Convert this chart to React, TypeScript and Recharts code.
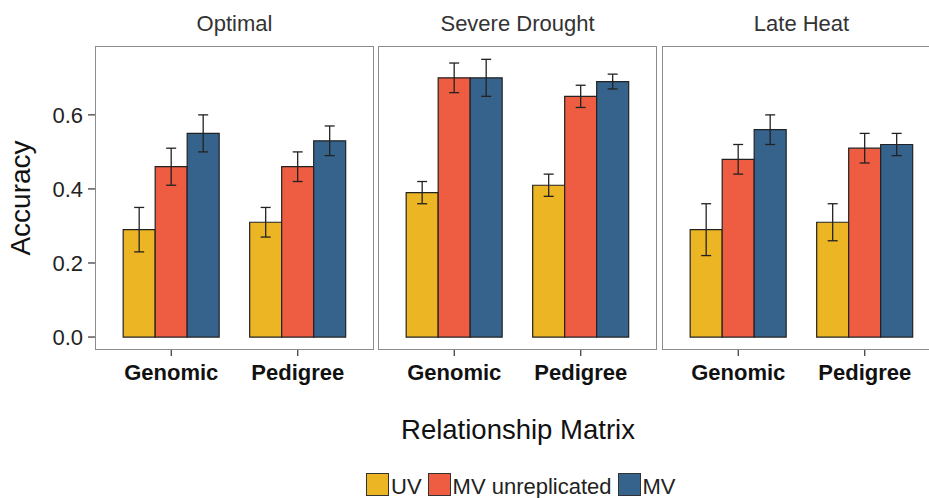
import React from "react";
import { BarChart, Bar, XAxis, YAxis, ErrorBar } from "recharts";

// Accuracy by relationship matrix, faceted by environment.

const environments = ["Optimal", "Severe Drought", "Late Heat"];
const matrices = ["Genomic", "Pedigree"];

// rows = environment, cols = matrix (Genomic, Pedigree)
const uvMean = [[0.29, 0.31], [0.39, 0.41], [0.29, 0.31]];
const uvLow = [[0.23, 0.27], [0.36, 0.38], [0.22, 0.26]];
const uvHigh = [[0.35, 0.35], [0.42, 0.44], [0.36, 0.36]];

const mvuMean = [[0.46, 0.46], [0.7, 0.65], [0.48, 0.51]];
const mvuLow = [[0.41, 0.42], [0.66, 0.62], [0.44, 0.47]];
const mvuHigh = [[0.51, 0.5], [0.74, 0.68], [0.52, 0.55]];

const mvMean = [[0.55, 0.53], [0.7, 0.69], [0.56, 0.52]];
const mvLow = [[0.5, 0.49], [0.65, 0.67], [0.52, 0.49]];
const mvHigh = [[0.6, 0.57], [0.75, 0.71], [0.6, 0.55]];

const yTicks = [0, 0.2, 0.4, 0.6];

const series = [
  { key: "uv", name: "UV", color: "#ECB523" },
  { key: "mvu", name: "MV unreplicated", color: "#EE5D42" },
  { key: "mv", name: "MV", color: "#36638B" },
];

const FONT = "'Liberation Sans', Arial, sans-serif";
const PLOT_TOP = 46;
const PLOT_H = 304;
const PANEL_W = 279;
const Y_AXIS_W = 95;
const panelLeft = [95, 378, 662];
const Y_DOMAIN: [number, number] = [-0.035, 0.786];

function buildRows(e: number) {
  return matrices.map((m, i) => ({
    matrix: m,
    uv: uvMean[e][i],
    uvErr: [uvMean[e][i] - uvLow[e][i], uvHigh[e][i] - uvMean[e][i]],
    mvu: mvuMean[e][i],
    mvuErr: [mvuMean[e][i] - mvuLow[e][i], mvuHigh[e][i] - mvuMean[e][i]],
    mv: mvMean[e][i],
    mvErr: [mvMean[e][i] - mvLow[e][i], mvHigh[e][i] - mvMean[e][i]],
  }));
}

function Panel({ index }: { index: number }) {
  const first = index === 0;
  const width = first ? Y_AXIS_W + PANEL_W : PANEL_W;
  const left = first ? 0 : panelLeft[index];
  return (
    <div style={{ position: "absolute", left, top: 0 }}>
      <BarChart
        width={width}
        height={400}
        data={buildRows(index)}
        margin={{ top: PLOT_TOP, right: 0, bottom: 10, left: 0 }}
        barCategoryGap="12%"
        barGap={0}
      >
        <XAxis
          dataKey="matrix"
          height={40}
          axisLine={false}
          tickLine={{ stroke: "#333", strokeWidth: 1.2 }}
          tickSize={6}
          tickMargin={8}
          padding={{ left: 13, right: 13 }}
          tick={{ fontSize: 22, fontWeight: "bold", fill: "#111", fontFamily: FONT }}
        />
        <YAxis
          hide={!first}
          width={Y_AXIS_W}
          domain={Y_DOMAIN}
          allowDataOverflow
          ticks={yTicks}
          tickFormatter={(v: number) => v.toFixed(1)}
          axisLine={false}
          tickLine={{ stroke: "#333", strokeWidth: 1.2 }}
          tickSize={7}
          tickMargin={5}
          tick={{ fontSize: 22, fill: "#222", fontFamily: FONT }}
        />
        {series.map((s) => (
          <Bar
            key={s.key}
            dataKey={s.key}
            fill={s.color}
            stroke="#222"
            strokeWidth={1.2}
            isAnimationActive={false}
          >
            <ErrorBar
              dataKey={s.key + "Err"}
              width={5}
              stroke="#222"
              strokeWidth={1.3}
              isAnimationActive={false}
            />
          </Bar>
        ))}
      </BarChart>
      <div
        style={{
          position: "absolute",
          left: first ? Y_AXIS_W : 0,
          top: PLOT_TOP,
          width: PANEL_W,
          height: PLOT_H,
          border: "1.5px solid #8c8c8c",
          boxSizing: "border-box",
          pointerEvents: "none",
        }}
      />
    </div>
  );
}

export default function App() {
  return (
    <div
      style={{
        position: "absolute",
        left: 0,
        top: 0,
        width: 929,
        height: 498,
        overflow: "hidden",
        background: "#fff",
        fontFamily: FONT,
      }}
    >
      {environments.map((env, i) => (
        <React.Fragment key={env}>
          <Panel index={i} />
          <div
            style={{
              position: "absolute",
              left: panelLeft[i],
              top: 13,
              width: PANEL_W,
              textAlign: "center",
              fontSize: 22,
              lineHeight: "22px",
              color: "#333",
            }}
          >
            {env}
          </div>
        </React.Fragment>
      ))}

      <div
        style={{
          position: "absolute",
          left: 21,
          top: 198,
          transform: "translate(-50%, -50%) rotate(-90deg)",
          fontSize: 28,
          lineHeight: "28px",
          color: "#111",
          whiteSpace: "nowrap",
        }}
      >
        Accuracy
      </div>

      <div
        style={{
          position: "absolute",
          left: 95,
          top: 416,
          width: 846,
          textAlign: "center",
          fontSize: 27.5,
          lineHeight: "27.5px",
          color: "#111",
        }}
      >
        Relationship Matrix
      </div>

      <div
        style={{
          position: "absolute",
          left: 366,
          top: 473,
          display: "flex",
          alignItems: "flex-start",
        }}
      >
        {series.map((s) => (
          <React.Fragment key={s.key}>
            <div
              style={{
                width: 23,
                height: 23,
                background: s.color,
                border: "1.5px solid #333",
                boxSizing: "border-box",
              }}
            />
            <span
              style={{
                marginTop: 3,
                marginLeft: 2,
                marginRight: 6,
                fontSize: 22,
                lineHeight: "22px",
                color: "#222",
              }}
            >
              {s.name}
            </span>
          </React.Fragment>
        ))}
      </div>
    </div>
  );
}
